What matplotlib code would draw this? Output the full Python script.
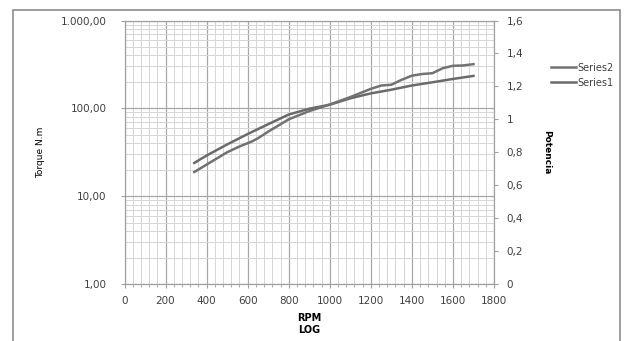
import matplotlib.pyplot as plt
from matplotlib.patches import Rectangle
from matplotlib.ticker import FixedLocator, FuncFormatter, MultipleLocator, NullFormatter

# Series1 - torque (left, log axis)
rpm1 = [340, 400, 500, 600, 700, 800, 900, 1000, 1100, 1200, 1300, 1400, 1500, 1600, 1700]
torque = [23.9, 29, 38.8, 51, 66, 85, 99, 110, 130, 148, 163, 182, 198, 216, 234]

# Series2 - potencia (right axis)
rpm2 = [340, 420, 500, 560, 620, 650, 700, 800, 900, 1000, 1100, 1150, 1200, 1250,
        1300, 1350, 1400, 1450, 1500, 1550, 1600, 1650, 1700]
potencia = [0.68, 0.74, 0.80, 0.835, 0.865, 0.885, 0.925, 1.00, 1.05, 1.09, 1.135, 1.16,
            1.185, 1.205, 1.21, 1.24, 1.265, 1.275, 1.28, 1.31, 1.325, 1.327, 1.335]

left_ticks = [1, 10, 100, 1000]
left_labels = ['1,00', '10,00', '100,00', '1.000,00']
right_ticks = [0, 0.2, 0.4, 0.6, 0.8, 1.0, 1.2, 1.4, 1.6]
right_labels = ['0', '0,2', '0,4', '0,6', '0,8', '1', '1,2', '1,4', '1,6']

fig = plt.figure(figsize=(6.26, 3.41), dpi=100)
fig.patches.append(Rectangle((13 / 626, -0.1), 607 / 626, 1.1 - 10 / 341,
                             transform=fig.transFigure, fill=False,
                             edgecolor='#8c8c8c', lw=1.2))

ax = fig.add_axes([124.5 / 626, 1 - 284 / 341, (494 - 124.5) / 626, (284 - 20.5) / 341])
ax2 = ax.twinx()

line1, = ax.plot(rpm1, torque, color='#6a6a6a', lw=1.8, label='Series1')
line2, = ax2.plot(rpm2, potencia, color='#727272', lw=1.8, label='Series2')

ax.set_xlim(0, 1800)
ax.set_yscale('log')
ax.set_ylim(1, 1000)
ax2.set_ylim(0, 1.6)

ax.xaxis.set_major_locator(MultipleLocator(200))
ax.xaxis.set_minor_locator(MultipleLocator(40))
ax.yaxis.set_major_locator(FixedLocator(left_ticks))
ax.yaxis.set_major_formatter(FuncFormatter(lambda v, p: left_labels[left_ticks.index(round(v))] if round(v) in left_ticks else ''))
ax.yaxis.set_minor_formatter(NullFormatter())
ax2.yaxis.set_major_locator(FixedLocator(right_ticks))
ax2.set_yticklabels(right_labels)

ax.grid(which='major', color='#a8a8a8', lw=0.9)
ax.grid(which='minor', color='#d6d6d6', lw=0.7)
ax.set_axisbelow(True)

for a in (ax, ax2):
    for s in a.spines.values():
        s.set_color('#a0a0a0')
        s.set_linewidth(0.8)
    a.tick_params(colors='#a0a0a0', labelcolor='#404040', labelsize=7.5, length=3, width=0.8)
    a.tick_params(which='minor', colors='#a0a0a0', length=2, width=0.6)
ax.tick_params(axis='y', which='minor', length=0)
ax.tick_params(axis='x', pad=6)
ax.tick_params(axis='y', pad=10)
ax2.tick_params(axis='y', pad=6)

ax.set_ylabel('Torque N.m', fontsize=6.5, labelpad=11)
ax2.set_ylabel('Potencia', fontsize=6.5, fontweight='bold', rotation=-90, labelpad=20)
ax.set_xlabel('RPM\nLOG', fontsize=7, fontweight='bold', labelpad=5, linespacing=1.15)

fig.legend([line2, line1], ['Series2', 'Series1'], loc='upper left',
           bbox_to_anchor=(542 / 626, 1 - 54 / 341), frameon=False, fontsize=7,
           handlelength=2.6, handletextpad=0.1, labelspacing=0.5, labelcolor='#404040')

fig.savefig('out.png', dpi=100)
